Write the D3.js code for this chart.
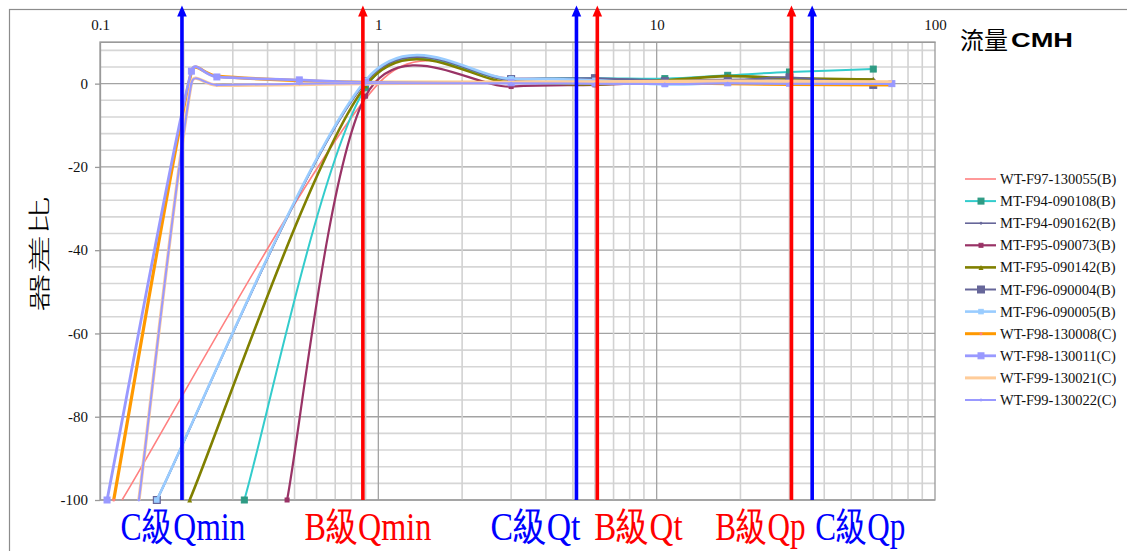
<!DOCTYPE html>
<html>
<head>
<meta charset="utf-8">
<script src="https://cdn.jsdelivr.net/npm/d3@7"></script>
<style>
  html, body { margin: 0; padding: 0; background: #fff; }
  svg { display: block; }
</style>
</head>
<body>
<svg id="chart" width="1127" height="551"></svg>
<script>
// ---- data -------------------------------------------------------------
const seriesNames = [
  "WT-F97-130055(B)", "MT-F94-090108(B)", "MT-F94-090162(B)", "MT-F95-090073(B)",
  "MT-F95-090142(B)", "MT-F96-090004(B)", "MT-F96-090005(B)", "WT-F98-130008(C)",
  "WT-F98-130011(C)", "WT-F99-130021(C)", "WT-F99-130022(C)"
];

// test flows (CMH) after the starting point
const flowsWT97 = [1.0, 3, 6, 10.7, 18, 30, 60];
const flowsB = [0.9, 3, 6, 10.7, 18, 30, 60];
const flowsC = [0.213, 0.263, 0.52, 0.9, 3, 6, 10.7, 18, 30, 70];

// lowest flow tested, where each meter still reads -100 %
const startFlows = [0.12, 0.33, 0.16, 0.47, 0.21, 0.16, 0.16, 0.112, 0.106, 0.138, 0.138];

// meter error (%) at the flows above
const errWT97_130055 = [0.0, 1.3, 0.8, 0.3, 0.5, 0.6, 0.5];
const errMT94_090108 = [-1.0, 1.0, 1.3, 1.2, 2.0, 2.8, 3.5];
const errMT94_090162 = [0.3, 0.9, 1.2, 0.9, 1.0, 1.2, 1.1];
const errMT95_090073 = [-3.0, -0.7, -0.3, 0.3, 0.3, 0.5, 0.4];
const errMT95_090142 = [-0.5, 0.3, -0.2, 0.8, 1.8, 1.3, 1.0];
const errMT96_090004 = [0.6, 1.1, 1.3, 0.6, 0.6, 1.5, -0.3];
const errMT96_090005 = [0.8, 1.2, 0.8, -0.2, 0.2, 0.1, 0.2];
const errWT98_130008 = [2.8, 1.8, 0.7, 0.3, 0.3, 0.2, 0.1, 0.0, -0.2, -0.3];
const errWT98_130011 = [3.0, 1.6, 0.9, 0.3, 0.2, 0.1, 0.0, 0.2, 0.1, 0.0];
const errWT99_130021 = [0.1, -0.4, -0.2, 0.0, 0.3, 0.4, 0.5, 0.6, 0.5, 0.4];
const errWT99_130022 = [0.0, -0.3, 0.0, 0.1, 0.1, 0.0, -0.1, 0.1, 0.0, -0.1];

const seriesFlows = [flowsWT97, flowsB, flowsB, flowsB, flowsB, flowsB, flowsB, flowsC, flowsC, flowsC, flowsC];
const seriesErrors = [errWT97_130055, errMT94_090108, errMT94_090162, errMT95_090073, errMT95_090142,
  errMT96_090004, errMT96_090005, errWT98_130008, errWT98_130011, errWT99_130021, errWT99_130022];

// accuracy-class reference flows
const refLabels = ["C級Qmin", "B級Qmin", "C級Qt", "B級Qt", "B級Qp", "C級Qp"];
const refFlows = [0.197, 0.88, 5.15, 6.12, 30.5, 36.2];
const refClass = ["C", "B", "C", "B", "B", "C"];

const flowTicks = [0.1, 1, 10, 100];
const errTicks = [-100, -80, -60, -40, -20, 0];

// ---- styles -----------------------------------------------------------
const lineColors = ["#FF8080", "#33CCCC", "#666699", "#993366", "#808000", "#666699",
  "#99CCFF", "#FF9900", "#9999FF", "#FFCC99", "#9999FF"];
const lineWidths = [1.6, 2, 1.6, 2.2, 2.6, 2, 2.6, 3.2, 2.8, 3.4, 2];
const markerShapes = [null, "square", "diamond", "square", "triangle", "square", "square", "dot", "square", "none", "diamond"];
const markerSizes = [0, 6, 3.5, 4, 5, 7, 4.5, 3, 6, 0, 3.5];
const markerFills = [null, "#2E9B84", "#666699", "#993366", "#808000", "#666699", "#99CCFF", "#FF8080", "#9999FF", null, "#9999FF"];
const classColor = { B: "#FF0000", C: "#0000FF" };
const refAnchor = ["middle", "middle", "end", "start", "end", "start"];
const refDx = [1, 5, 4, -3, 14, 3];
const refLen = [125, 127, 90, 88, 90, 90];

const serif = "'Liberation Serif', 'Times New Roman', serif";
const cjk = "'Noto Sans CJK TC', 'Noto Sans CJK SC', sans-serif";

// ---- layout -----------------------------------------------------------
const svg = d3.select("#chart");
const plot = { left: 100, right: 935, top: 42, bottom: 500 };

const x = d3.scaleLog().domain([0.1, 100]).range([plot.left, plot.right]);
const y = d3.scaleLinear().domain([-100, 10]).range([plot.bottom, plot.top]);

// outer chart frame
svg.append("rect")
  .attr("x", 9.5).attr("y", 9.5).attr("width", 1140).attr("height", 560)
  .attr("fill", "none").attr("stroke", "#8c8c8c").attr("stroke-width", 1.2);

// ---- grid -------------------------------------------------------------
const grid = svg.append("g");
const yGrid = d3.range(-100, 10, 4);
grid.selectAll("line.hy").data(yGrid).join("line")
  .attr("x1", plot.left).attr("x2", plot.right)
  .attr("y1", d => y(d)).attr("y2", d => y(d))
  .attr("stroke", d => d % 20 === 0 ? "#a3a3a3" : "#d6d6d6")
  .attr("stroke-width", d => d % 20 === 0 ? 1.3 : 1.6);

const xGrid = x.ticks().filter(d => d > 0.1 && d < 100);
const isDecade = d => Math.abs(Math.log10(d) - Math.round(Math.log10(d))) < 1e-9;
grid.selectAll("line.vx").data(xGrid).join("line")
  .attr("x1", d => x(d)).attr("x2", d => x(d))
  .attr("y1", plot.top).attr("y2", plot.bottom)
  .attr("stroke", d => isDecade(d) ? "#a3a3a3" : "#d2d2d2")
  .attr("stroke-width", d => isDecade(d) ? 1.3 : 1.6);

// plot-area border
svg.append("rect")
  .attr("x", plot.left).attr("y", plot.top)
  .attr("width", plot.right - plot.left).attr("height", plot.bottom - plot.top)
  .attr("fill", "none").attr("stroke", "#9a9a9a").attr("stroke-width", 1.3);

// ---- axes -------------------------------------------------------------
const xAxis = svg.append("g")
  .attr("transform", `translate(0,${plot.top})`)
  .call(d3.axisTop(x).tickValues(flowTicks).tickSize(0).tickSizeOuter(0).tickPadding(12)
    .tickFormat(d3.format("~g")));
xAxis.select(".domain").attr("stroke", "#9a9a9a");
xAxis.selectAll("text").attr("font-family", serif).attr("font-size", 15).attr("fill", "#111");

const yAxis = svg.append("g")
  .attr("transform", `translate(${plot.left},0)`)
  .call(d3.axisLeft(y).tickValues(errTicks).tickSize(5).tickSizeOuter(0).tickPadding(7)
    .tickFormat(d => String(d)));
yAxis.select(".domain").attr("stroke", "#9a9a9a").attr("stroke-width", 1.3);
yAxis.selectAll(".tick line").attr("stroke", "#9a9a9a").attr("stroke-width", 1.3);
yAxis.selectAll("text").attr("font-family", serif).attr("font-size", 15).attr("fill", "#111");

// ---- smoothed line (Bezier through every point, tangent length capped
//      at half the segment so steep runs do not overshoot wildly) -------
class CappedSmooth {
  constructor(context) { this._context = context; }
  areaStart() {}
  areaEnd() {}
  lineStart() { this._p = []; }
  point(px, py) { this._p.push([+px, +py]); }
  lineEnd() {
    const p = this._p, n = p.length, c = this._context;
    if (!n) return;
    c.moveTo(p[0][0], p[0][1]);
    if (n === 2) { c.lineTo(p[1][0], p[1][1]); return; }
    for (let i = 0; i < n - 1; i++) {
      const a = p[i - 1] || p[i], b = p[i], d = p[i + 1], e = p[i + 2] || p[i + 1];
      const d12 = Math.hypot(d[0] - b[0], d[1] - b[1]);
      const d02 = Math.hypot(d[0] - a[0], d[1] - a[1]);
      const d13 = Math.hypot(e[0] - b[0], e[1] - b[1]);
      const f1 = d02 / 6 < d12 / 2 ? 1 / 6 : (d12 / 2) / d02;
      const f2 = d13 / 6 < d12 / 2 ? 1 / 6 : (d12 / 2) / d13;
      c.bezierCurveTo(
        b[0] + f1 * (d[0] - a[0]), b[1] + f1 * (d[1] - a[1]),
        d[0] - f2 * (e[0] - b[0]), d[1] - f2 * (e[1] - b[1]),
        d[0], d[1]);
    }
  }
}
const curveCapped = context => new CappedSmooth(context);

const line = d3.line()
  .x(d => x(d[0]))
  .y(d => y(d[1]))
  .curve(curveCapped);

const seriesData = seriesNames.map((name, i) => ({
  name, i,
  points: [[startFlows[i], -100]].concat(seriesFlows[i].map((f, k) => [f, seriesErrors[i][k]]))
}));

function marker(sel, shape, size, fill) {
  const s = size / 2;
  if (shape === "square") {
    sel.append("rect").attr("x", -s).attr("y", -s).attr("width", size).attr("height", size)
      .attr("fill", fill).attr("stroke", fill);
  } else if (shape === "diamond") {
    sel.append("path").attr("d", `M0,${-s}L${s},0L0,${s}L${-s},0Z`).attr("fill", fill);
  } else if (shape === "triangle") {
    sel.append("path").attr("d", `M0,${-s}L${s},${s}L${-s},${s}Z`).attr("fill", fill);
  } else if (shape === "dot") {
    sel.append("circle").attr("r", s).attr("fill", fill);
  }
}

const seriesG = svg.append("g");
seriesData.forEach(s => {
  const g = seriesG.append("g");
  g.append("path")
    .attr("d", line(s.points))
    .attr("fill", "none")
    .attr("stroke", lineColors[s.i])
    .attr("stroke-width", lineWidths[s.i])
    .attr("stroke-linejoin", "round");
  const shape = markerShapes[s.i];
  if (shape && shape !== "none") {
    g.selectAll("g.m").data(s.points).join("g")
      .attr("transform", d => `translate(${x(d[0])},${y(d[1])})`)
      .each(function () { marker(d3.select(this), shape, markerSizes[s.i], markerFills[s.i]); });
  }
});

// ---- reference arrows -------------------------------------------------
const arrows = svg.append("g");
refFlows.forEach((q, i) => {
  const col = classColor[refClass[i]];
  const ax = x(q);
  arrows.append("line")
    .attr("x1", ax).attr("x2", ax)
    .attr("y1", y(-100)).attr("y2", 14)
    .attr("stroke", col).attr("stroke-width", 3.6);
  arrows.append("path")
    .attr("d", `M${ax - 4.8},16.5L${ax + 4.8},16.5L${ax},5.5Z`)
    .attr("fill", col);
  // tall, narrow caption: natural text squeezed horizontally to its width
  const lg = arrows.append("g");
  const t = lg.append("text")
    .attr("x", 0).attr("y", 0)
    .attr("text-anchor", refAnchor[i])
    .attr("font-family", serif)
    .attr("font-size", 40)
    .attr("fill", col)
    .text(refLabels[i]);
  const natural = t.node().getComputedTextLength() || refLen[i];
  lg.attr("transform", `translate(${ax + refDx[i]},540) scale(${refLen[i] / natural},1)`);
});

// ---- titles -----------------------------------------------------------
svg.append("text")
  .attr("transform", "translate(37,254) rotate(-90)")
  .attr("text-anchor", "middle")
  .attr("dominant-baseline", "central")
  .attr("font-family", cjk)
  .attr("font-weight", 300)
  .attr("font-size", 22)
  .attr("textLength", 115)
  .attr("lengthAdjust", "spacingAndGlyphs")
  .attr("fill", "#000")
  .text("器差比");

svg.append("text")
  .attr("x", 960).attr("y", 49)
  .attr("font-family", cjk).attr("font-size", 24).attr("fill", "#000")
  .text("流量");
svg.append("text")
  .attr("x", 1011).attr("y", 47)
  .attr("font-family", "'Liberation Sans', Arial, sans-serif")
  .attr("font-weight", "bold").attr("font-size", 21)
  .attr("textLength", 62).attr("lengthAdjust", "spacingAndGlyphs")
  .attr("fill", "#000")
  .text("CMH");

// ---- legend -----------------------------------------------------------
const legend = svg.append("g");
seriesNames.forEach((name, i) => {
  const ly = 179 + i * 22.1;
  const g = legend.append("g").attr("transform", `translate(0,${ly})`);
  g.append("line").attr("x1", 965).attr("x2", 996).attr("y1", 0).attr("y2", 0)
    .attr("stroke", lineColors[i]).attr("stroke-width", Math.min(lineWidths[i], 3));
  const shape = markerShapes[i];
  if (shape && shape !== "none") {
    const mg = g.append("g").attr("transform", "translate(981,0)");
    marker(mg, shape, markerSizes[i], markerFills[i]);
  }
  g.append("text").attr("x", 1000).attr("y", 0).attr("dy", "0.35em")
    .attr("font-family", serif).attr("font-size", 14.5).attr("fill", "#111")
    .text(name);
});
</script>
</body>
</html>
